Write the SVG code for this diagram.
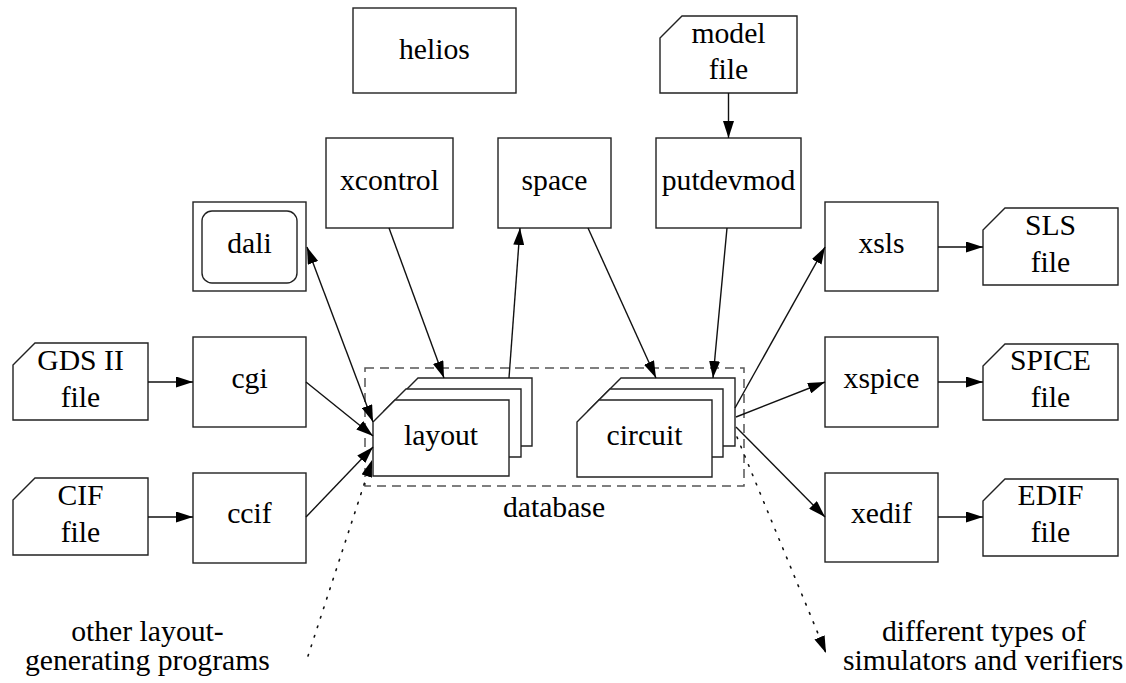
<svg xmlns="http://www.w3.org/2000/svg" width="1126" height="683" viewBox="0 0 1126 683">
<defs>
  <marker id="ah" markerUnits="userSpaceOnUse" markerWidth="17" markerHeight="11" refX="17" refY="5.5" orient="auto-start-reverse">
    <path d="M0,0 L17,5.5 L0,11 Z" fill="#000"/>
  </marker>
</defs>
<rect width="1126" height="683" fill="#fff"/>

<g fill="#fff" stroke="#222" stroke-width="1.4">
<g id="database">
  <rect x="365" y="368" width="379" height="118" fill="none" stroke="#555" stroke-width="1.5" stroke-dasharray="9 6"/>
</g>
<g id="helios">
  <rect x="353" y="8" width="163" height="85"/>
</g>
<g id="modelfile">
  <polygon points="660,38 682,16 797,16 797,93 660,93"/>
</g>
<g id="xcontrol">
  <rect x="326" y="138" width="127" height="90"/>
</g>
<g id="space">
  <rect x="498" y="138" width="113" height="90"/>
</g>
<g id="putdevmod">
  <rect x="656" y="138" width="145" height="90"/>
</g>
<g id="dali">
  <rect x="193" y="202" width="113" height="89"/>
  <rect x="202" y="211" width="95" height="72" rx="10" ry="10"/>
</g>
<g id="gds">
  <polygon points="13,365 35,343 148,343 148,420 13,420"/>
</g>
<g id="cif">
  <polygon points="13,500 35,478 148,478 148,555 13,555"/>
</g>
<g id="cgi">
  <rect x="193" y="337" width="113" height="90"/>
</g>
<g id="ccif">
  <rect x="193" y="473" width="113" height="90"/>
</g>
<g id="layout">
  <polygon points="396,400 418,378 532,378 532,446 396,446"/>
  <polygon points="384,411 406,389 521,389 521,457 384,457"/>
  <polygon points="373,422 395,400 509,400 509,476 373,476"/>
</g>
<g id="circuit">
  <polygon points="599,400 621,378 735,378 735,446 599,446"/>
  <polygon points="588,411 610,389 723,389 723,457 588,457"/>
  <polygon points="577,422 599,400 712,400 712,477 577,477"/>
</g>
<g id="xsls">
  <rect x="825" y="202" width="113" height="89"/>
</g>
<g id="xspice">
  <rect x="825" y="337" width="113" height="90"/>
</g>
<g id="xedif">
  <rect x="825" y="473" width="113" height="89"/>
</g>
<g id="slsfile">
  <polygon points="983,230 1005,208 1118,208 1118,285 983,285"/>
</g>
<g id="spicefile">
  <polygon points="983,366 1005,344 1118,344 1118,420 983,420"/>
</g>
<g id="ediffile">
  <polygon points="983,501 1005,479 1118,479 1118,556 983,556"/>
</g>
</g>

<g id="labels">
  <text x="502.9" y="517" font-size="29.7" font-family="Liberation Serif">database</text>
  <text x="399" y="59" font-size="29.7" font-family="Liberation Serif">helios</text>
  <text x="691.4" y="43" font-size="29.7" font-family="Liberation Serif">model</text>
  <text x="708.7" y="79" font-size="29.7" font-family="Liberation Serif">file</text>
  <text x="340" y="190" font-size="29.7" font-family="Liberation Serif">xcontrol</text>
  <text x="521.5" y="190" font-size="29.7" font-family="Liberation Serif">space</text>
  <text x="661.7" y="190" font-size="29.7" font-family="Liberation Serif">putdevmod</text>
  <text x="227.2" y="253" font-size="29.7" font-family="Liberation Serif">dali</text>
  <text x="37.2" y="370" font-size="29.7" font-family="Liberation Serif">GDS II</text>
  <text x="60.7" y="407" font-size="29.7" font-family="Liberation Serif">file</text>
  <text x="57.4" y="505" font-size="29.7" font-family="Liberation Serif">CIF</text>
  <text x="60.7" y="542" font-size="29.7" font-family="Liberation Serif">file</text>
  <text x="231.4" y="388" font-size="29.7" font-family="Liberation Serif">cgi</text>
  <text x="227.2" y="523" font-size="29.7" font-family="Liberation Serif">ccif</text>
  <text x="403.9" y="445" font-size="29.7" font-family="Liberation Serif">layout</text>
  <text x="606.6" y="445" font-size="29.7" font-family="Liberation Serif">circuit</text>
  <text x="858.4" y="253" font-size="29.7" font-family="Liberation Serif">xsls</text>
  <text x="843.6" y="388" font-size="29.7" font-family="Liberation Serif">xspice</text>
  <text x="851" y="523" font-size="29.7" font-family="Liberation Serif">xedif</text>
  <text x="1024.9" y="235" font-size="29.7" font-family="Liberation Serif">SLS</text>
  <text x="1030.7" y="272" font-size="29.7" font-family="Liberation Serif">file</text>
  <text x="1010.1" y="370" font-size="29.7" font-family="Liberation Serif">SPICE</text>
  <text x="1030.7" y="407" font-size="29.7" font-family="Liberation Serif">file</text>
  <text x="1017.5" y="505" font-size="29.7" font-family="Liberation Serif">EDIF</text>
  <text x="1030.7" y="542" font-size="29.7" font-family="Liberation Serif">file</text>
  <text x="71.2" y="641" font-size="29.7" font-family="Liberation Serif">other layout-</text>
  <text x="25" y="670" font-size="29.7" font-family="Liberation Serif">generating programs</text>
  <text x="882" y="641" font-size="29.7" font-family="Liberation Serif">different types of</text>
  <text x="843" y="670" font-size="29.7" font-family="Liberation Serif">simulators and verifiers</text>
</g>

<g id="connectors" fill="none" stroke="#111" stroke-width="1.4">
  <line x1="728.5" y1="93" x2="728.5" y2="138" marker-end="url(#ah)"/>
  <line x1="148" y1="382" x2="193" y2="382" marker-end="url(#ah)"/>
  <line x1="148" y1="517" x2="193" y2="517" marker-end="url(#ah)"/>
  <line x1="938" y1="247" x2="983" y2="247" marker-end="url(#ah)"/>
  <line x1="938" y1="382" x2="983" y2="382" marker-end="url(#ah)"/>
  <line x1="938" y1="517" x2="983" y2="517" marker-end="url(#ah)"/>
  <line x1="307" y1="247" x2="373" y2="422" marker-start="url(#ah)" marker-end="url(#ah)"/>
  <line x1="306" y1="382" x2="373" y2="436" marker-end="url(#ah)"/>
  <line x1="306" y1="517" x2="373" y2="447" marker-end="url(#ah)"/>
  <line x1="389" y1="228" x2="444" y2="378" marker-end="url(#ah)"/>
  <line x1="509" y1="378" x2="520" y2="228" marker-end="url(#ah)"/>
  <line x1="588" y1="228" x2="656" y2="378" marker-end="url(#ah)"/>
  <line x1="727" y1="228" x2="713" y2="378" marker-end="url(#ah)"/>
  <line x1="735" y1="408" x2="825" y2="247" marker-end="url(#ah)"/>
  <line x1="736" y1="417" x2="825" y2="382" marker-end="url(#ah)"/>
  <line x1="736" y1="427" x2="825" y2="517" marker-end="url(#ah)"/>
  <line x1="308" y1="656" x2="372" y2="460" stroke-width="1.6" stroke-dasharray="1.6 8.4" stroke-linecap="round" marker-end="url(#ah)"/>
  <line x1="737" y1="437" x2="826" y2="653" stroke-width="1.6" stroke-dasharray="1.6 8.4" stroke-linecap="round" marker-end="url(#ah)"/>
</g>
</svg>
